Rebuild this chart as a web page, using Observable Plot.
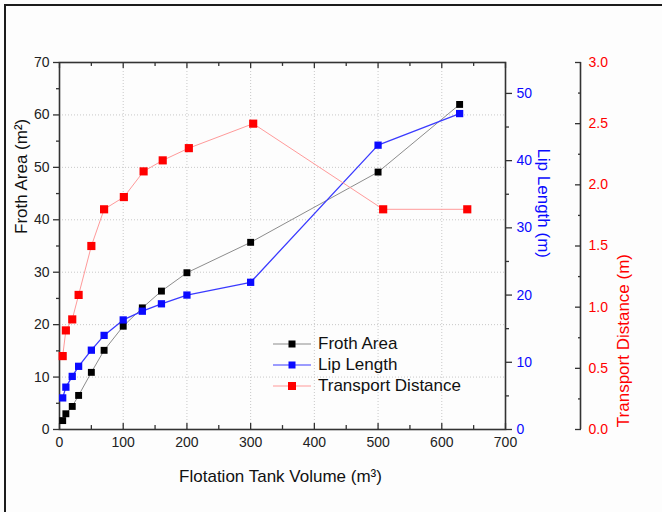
<!DOCTYPE html>
<html>
<head>
<meta charset="utf-8">
<script src="https://cdn.jsdelivr.net/npm/d3@7"></script>
<script src="https://cdn.jsdelivr.net/npm/@observablehq/plot@0.6"></script>
<style>
  html, body { margin: 0; padding: 0; background: #fdfdfd; }
  #wrap { position: relative; width: 662px; height: 512px; overflow: hidden; font-family: "Liberation Sans", Arial, sans-serif; }
  #border { position: absolute; left: 4px; top: 4px; width: 720px; height: 620px; border: 2px solid #1c1c1c; pointer-events: none; }
  #legend { position: absolute; left: 272px; top: 333px; font-size: 17px; color: #111; }
  .row { display: flex; align-items: center; height: 21px; }
  .row svg { margin-right: 6px; }
</style>
</head>
<body>
<div id="wrap">
  <div id="chart"></div>
  <div id="legend"></div>
  <div id="border"></div>
</div>
<script>
// ---- data ----
const frothVolume = [5, 10, 20, 30, 50, 70, 100, 130, 160, 200, 300, 500, 628];
const frothArea   = [1.7, 3.0, 4.4, 6.5, 10.9, 15.1, 19.7, 23.2, 26.4, 29.9, 35.7, 49.1, 62.0];

const lipVolume = [5, 10, 20, 30, 50, 70, 100, 130, 160, 200, 300, 500, 628];
const lipLength = [4.7, 6.3, 7.9, 9.4, 11.8, 14.0, 16.3, 17.6, 18.7, 20.0, 21.9, 42.3, 47.0];

const transportVolume   = [5, 10, 20, 30, 50, 70, 101, 132, 162, 203, 304, 508, 640];
const transportDistance = [0.60, 0.81, 0.90, 1.10, 1.50, 1.80, 1.90, 2.11, 2.20, 2.30, 2.50, 1.80, 1.80];

const seriesNames = ["Froth Area", "Lip Length", "Transport Distance"];
const xTicks = [0, 100, 200, 300, 400, 500, 600, 700];
const xMinorTicks = [50, 150, 250, 350, 450, 550, 650];
const yTicks = [0, 10, 20, 30, 40, 50, 60, 70];
const yMinorTicks = [5, 15, 25, 35, 45, 55, 65];
const lipTicks = [0, 10, 20, 30, 40, 50];
const lipMinorTicks = [5, 15, 25, 35, 45];
const transportTicks = [0, 0.5, 1.0, 1.5, 2.0, 2.5, 3.0];
const transportMinorTicks = [0.25, 0.75, 1.25, 1.75, 2.25, 2.75];

// ---- secondary axis mapping onto the froth (left) scale ----
const yMax = 70;
const lipMax = 54.6;
const transportMax = 3.0;
const lipK = lipMax / yMax;
const trK = transportMax / yMax;

const colors = { froth: "#000000", lip: "#0a0aff", tr: "#ff0000" };
const lineColors = { froth: "#8c8c8c", lip: "#3a3aff", tr: "#ff9a9a" };

const froth = frothVolume.map((v, i) => ({ x: v, y: frothArea[i] }));
const lip = lipVolume.map((v, i) => ({ x: v, y: lipLength[i] / lipK }));
const tr = transportVolume.map((v, i) => ({ x: v, y: transportDistance[i] / trK }));

const axisColor = "#333";
const noText = () => "";

const plot = Plot.plot({
  width: 662,
  height: 512,
  marginLeft: 59,
  marginRight: 157,
  marginTop: 62,
  marginBottom: 83,
  style: { fontFamily: "'Liberation Sans', Arial, sans-serif", fontSize: "14px", color: "#222", background: "transparent", overflow: "visible" },
  x: { domain: [0, 700] },
  y: { domain: [0, yMax] },
  marks: [
    // dotted grid
    Plot.gridX(xTicks.slice(1, -1), { stroke: "#c8c8c8", strokeOpacity: 1, strokeDasharray: "1,2" }),
    Plot.gridY(yTicks.slice(1, -1), { stroke: "#c8c8c8", strokeOpacity: 1, strokeDasharray: "1,2" }),
    Plot.frame({ stroke: axisColor, strokeWidth: 1.6 }),

    // bottom axis: labels + inward ticks
    Plot.axisX(xTicks, { tickSize: 0, tickPadding: 8, fill: "#222", label: null }),
    Plot.ruleX(xTicks, { y1: 0, y2: 1.15, stroke: axisColor, strokeWidth: 1.3 }),
    Plot.ruleX(xMinorTicks, { y1: 0, y2: 0.75, stroke: axisColor, strokeWidth: 1.3 }),
    // top inward ticks
    Plot.ruleX(xTicks, { y1: yMax, y2: yMax - 1.15, stroke: axisColor, strokeWidth: 1.3 }),
    Plot.ruleX(xMinorTicks, { y1: yMax, y2: yMax - 0.75, stroke: axisColor, strokeWidth: 1.3 }),

    // left axis
    Plot.axisY(yTicks, { tickSize: 6, tickPadding: 4, stroke: axisColor, fill: "#222", strokeWidth: 1.3, label: null }),
    Plot.axisY(yMinorTicks, { tickSize: 3, tickFormat: noText, stroke: axisColor, strokeWidth: 1.3, label: null }),

    // lip length axis (right edge of frame)
    Plot.axisY(lipTicks.map(v => v / lipK), { anchor: "right", tickSize: 6, tickPadding: 5, stroke: axisColor, strokeWidth: 1.3, fill: colors.lip, label: null, tickFormat: d => String(Math.round(d * lipK)) }),
    Plot.axisY(lipMinorTicks.map(v => v / lipK), { anchor: "right", tickSize: 3, tickFormat: noText, stroke: axisColor, strokeWidth: 1.3, label: null }),

    // transport distance axis (offset to the right)
    Plot.ruleX([700], { y1: 0, y2: yMax, dx: 75, stroke: axisColor, strokeWidth: 1.6 }),
    Plot.axisY(transportTicks.map(v => v / trK), { anchor: "right", dx: 69, tickSize: 6, tickFormat: noText, stroke: axisColor, strokeWidth: 1.3, label: null }),
    Plot.axisY(transportMinorTicks.map(v => v / trK), { anchor: "right", dx: 72, tickSize: 3, tickFormat: noText, stroke: axisColor, strokeWidth: 1.3, label: null }),
    Plot.axisY(transportTicks.map(v => v / trK), { anchor: "right", dx: 75, tickSize: 0, tickPadding: 8, fill: colors.tr, label: null, tickFormat: d => (d * trK).toFixed(1) }),

    // axis titles
    Plot.text(["Froth Area (m²)"], { frameAnchor: "left", dx: -38, dy: -12, rotate: -90, fontSize: 17, fill: "#111" }),
    Plot.text(["Flotation Tank Volume (m³)"], { frameAnchor: "bottom", dy: 52, dx: -2, fontSize: 17, fill: "#111" }),
    Plot.text(["Lip Length (m)"], { frameAnchor: "right", dx: 38, dy: 12, rotate: 90, fontSize: 17, fill: colors.lip }),
    Plot.text(["Transport Distance (m)"], { frameAnchor: "right", dx: 118, dy: 8, rotate: -90, fontSize: 17, fill: colors.tr }),

    // series lines
    Plot.line(froth, { x: "x", y: "y", stroke: lineColors.froth, strokeWidth: 1 }),
    Plot.line(lip, { x: "x", y: "y", stroke: lineColors.lip, strokeWidth: 1.3 }),
    Plot.line(tr, { x: "x", y: "y", stroke: lineColors.tr, strokeWidth: 1 }),
    // markers
    Plot.dot(froth, { x: "x", y: "y", symbol: "square", r: 3.9, fill: colors.froth, stroke: "none" }),
    Plot.dot(lip, { x: "x", y: "y", symbol: "square", r: 4.1, fill: colors.lip, stroke: "none" }),
    Plot.dot(tr, { x: "x", y: "y", symbol: "square", r: 4.6, fill: colors.tr, stroke: "none" })
  ]
});
document.getElementById("chart").appendChild(plot);

// legend
const legendItems = [
  { name: seriesNames[0], line: lineColors.froth, fill: colors.froth, size: 7 },
  { name: seriesNames[1], line: lineColors.lip, fill: colors.lip, size: 7 },
  { name: seriesNames[2], line: lineColors.tr, fill: colors.tr, size: 8 }
];
const legend = document.getElementById("legend");
for (const it of legendItems) {
  const row = document.createElement("div");
  row.className = "row";
  const s = it.size;
  row.innerHTML = `<svg width="40" height="12"><line x1="1" y1="6" x2="39" y2="6" stroke="${it.line}" stroke-width="1.2"/><rect x="${20 - s / 2}" y="${6 - s / 2}" width="${s}" height="${s}" fill="${it.fill}"/></svg><span>${it.name}</span>`;
  legend.appendChild(row);
}
</script>
</body>
</html>
